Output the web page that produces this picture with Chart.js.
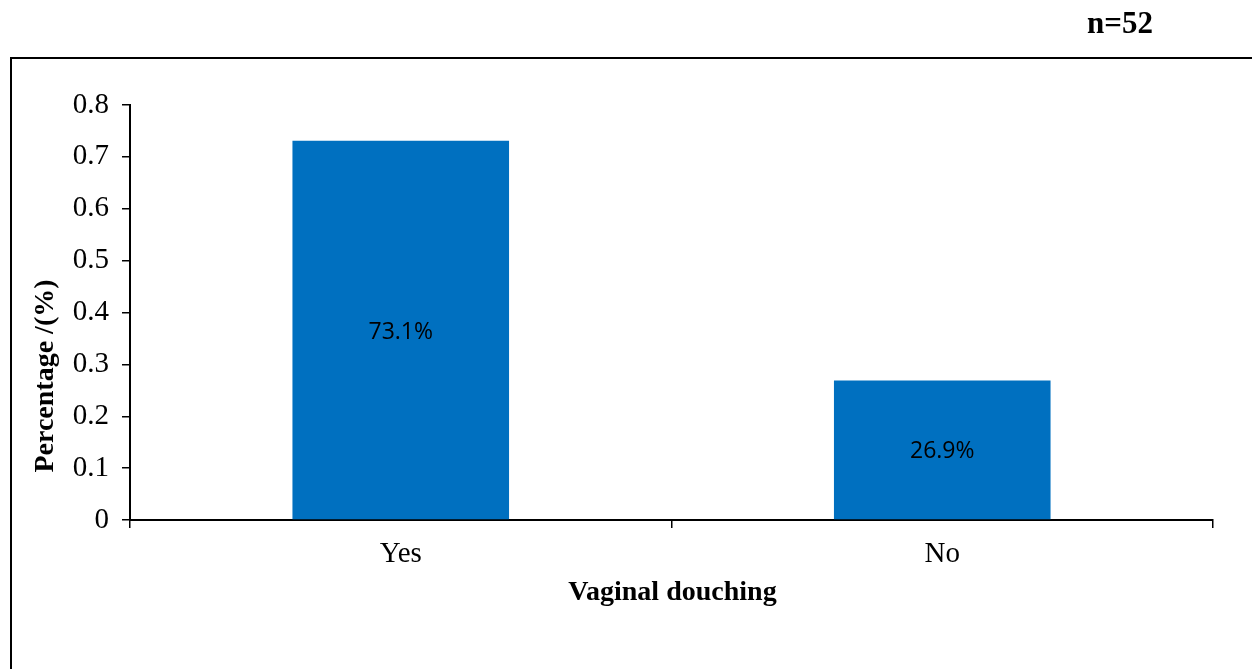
<!DOCTYPE html>
<html>
<head>
<meta charset="utf-8">
<script src="https://cdn.jsdelivr.net/npm/chart.js@4"></script>
<style>
  html, body { margin: 0; padding: 0; background: #ffffff; }
  #wrap { position: relative; width: 1252px; height: 669px; }
</style>
</head>
<body>
<div id="wrap"><canvas id="chart" width="1252" height="669"></canvas></div>
<script>
// Vaginal douching among respondents (share of n = 52)
const categories = ['Yes', 'No'];
const shares = [0.731, 0.269];
const yTicks = [0, 0.1, 0.2, 0.3, 0.4, 0.5, 0.6, 0.7, 0.8];
const sampleNote = 'n=52';
const xTitle = 'Vaginal douching';
const yTitle = 'Percentage /(%)';

const serif = '"Liberation Serif", "Times New Roman", serif';
const sans = '"Open Sans", "Liberation Sans", sans-serif';

// Outer frame, sample-size note and axis titles
const decorations = {
  id: 'decorations',
  afterDraw(chart) {
    const ctx = chart.ctx;
    const area = chart.chartArea;
    ctx.save();
    ctx.strokeStyle = '#000';
    ctx.lineWidth = 2;
    ctx.beginPath();
    ctx.moveTo(11, 669);
    ctx.lineTo(11, 58);
    ctx.lineTo(1252, 58);
    ctx.stroke();

    ctx.fillStyle = '#000';
    ctx.textAlign = 'center';
    ctx.textBaseline = 'middle';
    ctx.font = 'bold 31px ' + serif;
    ctx.fillText(sampleNote, 1120, 25);

    ctx.font = 'bold 28px ' + serif;
    ctx.fillText(xTitle, (area.left + area.right) / 2 + 1, 593);

    ctx.translate(46, 376);
    ctx.rotate(-Math.PI / 2);
    ctx.fillText(yTitle, 0, 0);
    ctx.restore();
  }
};

// Percentage labels centred inside each bar
const barLabels = {
  id: 'barLabels',
  afterDatasetsDraw(chart) {
    const ctx = chart.ctx;
    const meta = chart.getDatasetMeta(0);
    ctx.save();
    ctx.fillStyle = '#000';
    ctx.font = '23px ' + sans;
    ctx.textAlign = 'center';
    ctx.textBaseline = 'middle';
    meta.data.forEach((bar, i) => {
      const v = chart.data.datasets[0].data[i];
      ctx.fillText((v * 100).toFixed(1) + '%', bar.x, (bar.y + bar.base) / 2 + 2);
    });
    ctx.restore();
  }
};

new Chart(document.getElementById('chart'), {
  type: 'bar',
  data: {
    labels: categories,
    datasets: [{
      data: shares,
      backgroundColor: '#0070C0',
      borderWidth: 0,
      categoryPercentage: 1,
      barPercentage: 0.4
    }]
  },
  options: {
    responsive: false,
    animation: false,
    devicePixelRatio: 1,
    layout: { padding: { left: 0, top: 105, right: 39, bottom: 0 } },
    plugins: {
      legend: { display: false },
      tooltip: { enabled: false },
      title: { display: false }
    },
    scales: {
      x: {
        grid: {
          offset: true,
          drawOnChartArea: false,
          drawTicks: true,
          tickLength: 8,
          color: '#000',
          lineWidth: 1.5
        },
        border: { display: true, color: '#000', width: 2 },
        ticks: {
          color: '#000',
          font: { family: serif, size: 29 },
          padding: 9
        },
        afterFit(scale) { scale.height = 149; }
      },
      y: {
        min: 0,
        max: 0.8,
        afterBuildTicks(scale) { scale.ticks = yTicks.map(v => ({ value: v })); },
        grid: {
          drawOnChartArea: false,
          drawTicks: true,
          tickLength: 8,
          color: '#000',
          lineWidth: 1.5
        },
        border: { display: true, color: '#000', width: 2 },
        ticks: {
          color: '#000',
          font: { family: serif, size: 29 },
          padding: 13,
          callback: v => String(+v.toFixed(1))
        },
        afterFit(scale) { scale.width = 130; }
      }
    }
  },
  plugins: [decorations, barLabels]
});
</script>
</body>
</html>
